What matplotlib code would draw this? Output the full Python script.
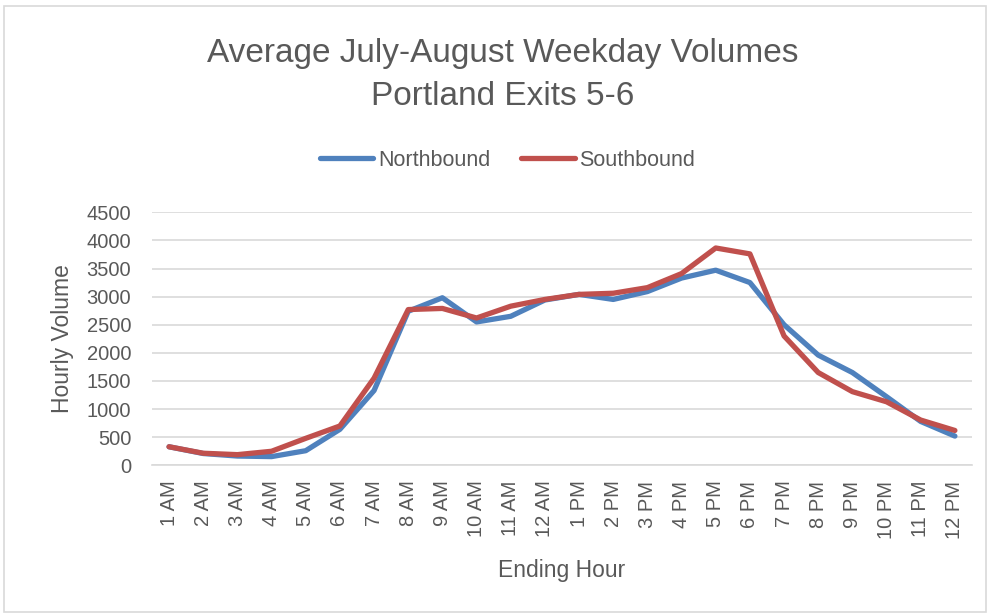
#!/usr/bin/env python3

"""
Average July-August weekday hourly volumes, Portland Exits 5-6.
"""

import matplotlib
matplotlib.use("Agg")
import matplotlib.pyplot as plt
from matplotlib.patches import Rectangle

hours = ["1 AM", "2 AM", "3 AM", "4 AM", "5 AM", "6 AM", "7 AM", "8 AM",
         "9 AM", "10 AM", "11 AM", "12 AM", "1 PM", "2 PM", "3 PM", "4 PM",
         "5 PM", "6 PM", "7 PM", "8 PM", "9 PM", "10 PM", "11 PM", "12 PM"]
northbound = [330, 210, 165, 155, 260, 640, 1330, 2740, 2980, 2550, 2650, 2940,
              3040, 2950, 3090, 3330, 3470, 3250, 2500, 1960, 1650, 1220, 780, 520]
southbound = [330, 215, 190, 250, 480, 700, 1550, 2770, 2790, 2620, 2830, 2950,
              3040, 3060, 3160, 3410, 3865, 3760, 2300, 1650, 1310, 1130, 805, 620]
yticks = list(range(0, 4501, 500))

TEXT = "#595959"
GRID = "#D9D9D9"


def main():
    plt.rcParams["font.family"] = ["Liberation Sans", "DejaVu Sans"]

    fig = plt.figure(figsize=(9.9, 6.16), dpi=100)
    ax = fig.add_axes([0.1535, 0.2446, 0.8283, 0.4108])

    x = range(len(hours))
    ax.plot(x, northbound, color="#4F81BD", linewidth=3.8,
            solid_capstyle="round", label="Northbound")
    ax.plot(x, southbound, color="#C0504D", linewidth=3.8,
            solid_capstyle="round", label="Southbound")

    ax.set_xlim(-0.5, len(hours) - 0.5)
    ax.set_ylim(0, 4500)
    ax.set_yticks(yticks)
    ax.set_xticks(list(x))
    ax.set_xticklabels(hours, rotation=90)
    ax.tick_params(length=0, labelsize=14.5, colors=TEXT)
    ax.tick_params(axis="y", pad=15)
    ax.tick_params(axis="x", pad=11)
    ax.grid(axis="y", color=GRID, linewidth=1.2)
    ax.set_axisbelow(True)
    for side in ["top", "right", "left"]:
        ax.spines[side].set_visible(False)
    ax.spines["bottom"].set_color(GRID)
    ax.spines["bottom"].set_linewidth(1.2)

    ax.set_ylabel("Hourly Volume", fontsize=16.5, color=TEXT, labelpad=9)
    ax.set_xlabel("Ending Hour", fontsize=16.5, color=TEXT, labelpad=15)

    fig.text(0.508, 0.879, "Average July-August Weekday Volumes\nPortland Exits 5-6",
             ha="center", va="center", fontsize=24, color=TEXT, linespacing=1.5)

    fig.legend(loc="center", bbox_to_anchor=(0.5126, 0.740), ncol=2, frameon=False,
               fontsize=15.5, handlelength=2.5, handletextpad=0.2,
               columnspacing=1.45, labelcolor=TEXT)

    fig.add_artist(Rectangle((0.004, 0.006), 0.992, 0.984, transform=fig.transFigure,
                             fill=False, edgecolor=GRID, linewidth=1.2))

    fig.savefig("out.png", dpi=100)


if __name__ == "__main__":
    main()
